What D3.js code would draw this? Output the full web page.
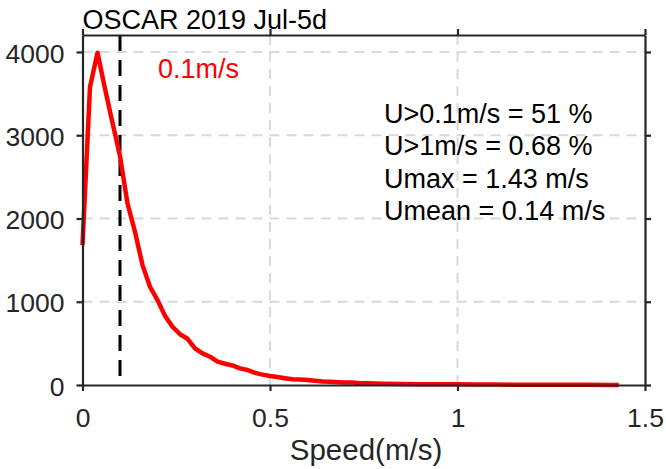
<!DOCTYPE html>
<html><head><meta charset="utf-8">
<script src="https://cdn.jsdelivr.net/npm/d3@7"></script>
<style>body{margin:0;background:#fff}svg{display:block}text{font-family:"Liberation Sans",Arial,sans-serif}</style>
</head><body>
<script>
const speeds = [0.00,0.02,0.04,0.06,0.08,0.10,0.12,0.14,0.16,0.18,0.20,0.22,0.24,0.26,0.28,0.30,0.32,0.34,0.36,0.38,0.40,0.42,0.44,0.46,0.48,0.50,0.52,0.54,0.56,0.58,0.60,0.62,0.64,0.66,0.68,0.70,0.72,0.74,0.76,0.78,0.80,0.85,0.90,0.95,1.00,1.05,1.10,1.15,1.20,1.25,1.30,1.35,1.40,1.43];
const counts = [1680,3580,3990,3560,3150,2750,2180,1840,1440,1180,1020,830,700,610,555,440,380,340,280,255,235,200,180,145,125,108,95,82,70,65,60,50,42,40,34,30,30,22,20,18,15,12,10,8,8,6,5,4,3,3,2,2,1,1];
const xTicks = [0,0.5,1,1.5];
const xTickLabels = ["0","0.5","1","1.5"];
const yTicks = [0,1000,2000,3000,4000];
const yTickLabels = ["0","1000","2000","3000","4000"];
const threshold = [0.1];
const thresholdLabel = "0.1m/s";
const titleText = "OSCAR 2019 Jul-5d";
const xLabel = "Speed(m/s)";
const statsLines = ["U>0.1m/s = 51 %","U>1m/s = 0.68 %","Umax = 1.43 m/s","Umean = 0.14 m/s"];

(function(){
const W=666,H=469;
const L=82.5,R=645,T=35,B=385;
const x=d3.scaleLinear().domain([0,1.5]).range([L,R]);
const y=d3.scaleLinear().domain([0,4204]).range([B,T]);
const svg=d3.select("body").append("svg").attr("width",W).attr("height",H);
const axisColor="#262626", fs=26.5;

svg.append("g").selectAll("line").data(xTicks.filter(d=>d>0&&d<1.5)).join("line")
 .attr("x1",d=>x(d)).attr("x2",d=>x(d)).attr("y1",T).attr("y2",B)
 .attr("stroke","#d9d9d9").attr("stroke-width",2).attr("stroke-dasharray","10,7");
svg.append("g").selectAll("line").data(yTicks.filter(d=>d>0)).join("line")
 .attr("x1",L).attr("x2",R).attr("y1",d=>y(d)).attr("y2",d=>y(d))
 .attr("stroke","#d9d9d9").attr("stroke-width",2).attr("stroke-dasharray","10,7");

svg.append("g").selectAll("line").data(threshold).join("line")
 .attr("x1",d=>x(d)).attr("x2",d=>x(d)).attr("y1",T).attr("y2",B)
 .attr("stroke","#000").attr("stroke-width",3).attr("stroke-dasharray","16,9");

const pts=speeds.map((s,i)=>[s,counts[i]]);
svg.append("path").datum(pts)
 .attr("d",d3.line().x(d=>x(d[0])).y(d=>y(d[1])))
 .attr("fill","none").attr("stroke","#ff0000").attr("stroke-width",4.5).attr("stroke-linejoin","round");

const tl=6;
const gB=svg.append("g").attr("transform",`translate(0,${B})`)
 .call(d3.axisBottom(x).tickValues(xTicks).tickFormat((d,i)=>xTickLabels[i]).tickSizeInner(tl).tickSizeOuter(0).tickPadding(17));
const gT=svg.append("g").attr("transform",`translate(0,${T})`)
 .call(d3.axisTop(x).tickValues(xTicks).tickFormat("").tickSizeInner(tl).tickSizeOuter(0));
const gL=svg.append("g").attr("transform",`translate(${L},0)`)
 .call(d3.axisLeft(y).tickValues(yTicks).tickFormat((d,i)=>yTickLabels[i]).tickSizeInner(tl).tickSizeOuter(0).tickPadding(12));
const gR=svg.append("g").attr("transform",`translate(${R},0)`)
 .call(d3.axisRight(y).tickValues(yTicks).tickFormat("").tickSizeInner(tl).tickSizeOuter(0));
[gB,gT,gL,gR].forEach(g=>{
  g.selectAll("path.domain").attr("stroke",axisColor).attr("stroke-width",2.2);
  g.selectAll(".tick line").attr("stroke",axisColor).attr("stroke-width",2.2);
  g.selectAll("text").attr("fill",axisColor).style("font-size",fs+"px").style("font-family",'"Liberation Sans",Arial,sans-serif');
});
gB.selectAll("text").attr("dy","0.71em");
gL.selectAll("text").attr("dy","0.38em");

svg.append("text").attr("x",L).attr("y",29).attr("font-size",27).attr("fill","#000").text(titleText);
svg.append("text").attr("x",366).attr("y",460).attr("text-anchor","middle").attr("font-size",29.5).attr("fill",axisColor).text(xLabel);
svg.append("text").attr("x",158).attr("y",78).attr("font-size",27).attr("fill","#ff0000").text(thresholdLabel);
svg.append("g").selectAll("text").data(statsLines).join("text")
 .attr("x",384).attr("y",(d,i)=>123+i*32.4).attr("font-size",27).attr("fill","#000").text(d=>d);
})();
</script>
</body></html>
